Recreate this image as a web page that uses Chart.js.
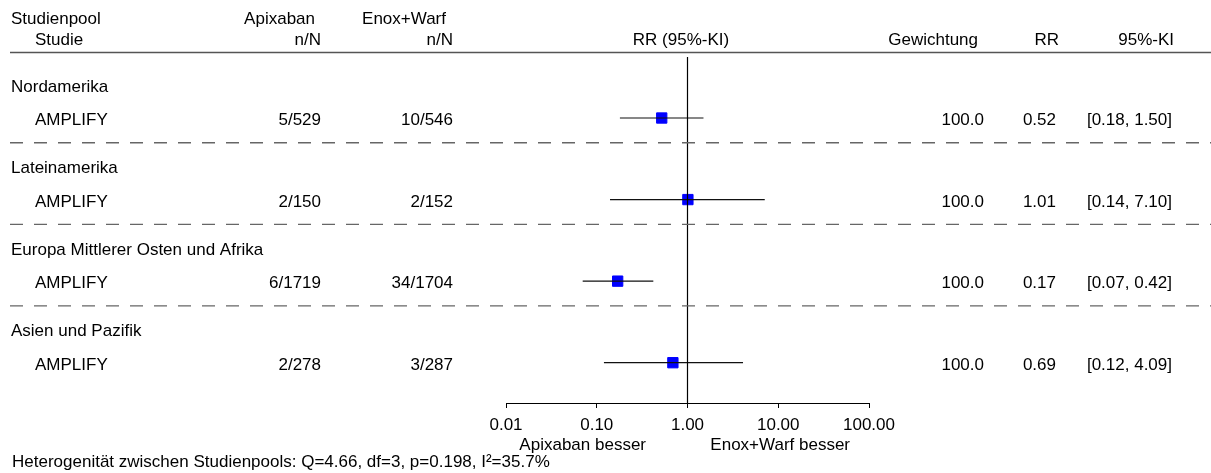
<!DOCTYPE html>
<html lang="de">
<head>
<meta charset="utf-8">
<title>Forest Plot AMPLIFY nach Region</title>
<script src="https://cdn.jsdelivr.net/npm/chart.js@4.4.1/dist/chart.umd.min.js"></script>
<style>
    body { margin: 0; background: #fff; }
    canvas { display: block; }
</style>
</head>
<body>
<canvas id="forestChart" width="1211" height="473"></canvas>
<script>
// Data
const regions = ['Nordamerika', 'Lateinamerika', 'Europa Mittlerer Osten und Afrika', 'Asien und Pazifik'];
const studies = ['AMPLIFY', 'AMPLIFY', 'AMPLIFY', 'AMPLIFY'];
const apixabanNN = ['5/529', '2/150', '6/1719', '2/278'];
const enoxWarfNN = ['10/546', '2/152', '34/1704', '3/287'];
const weights = [100.0, 100.0, 100.0, 100.0];
const rr = [0.52, 1.01, 0.17, 0.69];
const ciLow = [0.18, 0.14, 0.07, 0.12];
const ciHigh = [1.50, 7.10, 0.42, 4.09];
const tickValues = [0.01, 0.1, 1, 10, 100];
const heterogeneity = 'Heterogenität zwischen Studienpools: Q=4.66, df=3, p=0.198, I²=35.7%';

const FONT = '17px "Liberation Sans", Arial, sans-serif';

// Row layout (one unit = one region block)
const LABEL_OFFSET = -0.325;
const DASH_OFFSET = 0.303;

function drawText(ctx, str, x, y, align) {
    ctx.textAlign = align || 'left';
    ctx.fillText(str, x, y);
}

// Text columns, header rule and dashed separators
const forestText = {
    id: 'forestText',
    afterDraw(chart) {
        const ctx = chart.ctx;
        const yScale = chart.scales.y;
        const xScale = chart.scales.x;
        ctx.save();
        ctx.font = FONT;
        ctx.fillStyle = '#000';
        ctx.textBaseline = 'alphabetic';

        // header
        drawText(ctx, 'Studienpool', 11, 24);
        drawText(ctx, 'Studie', 35, 45);
        drawText(ctx, 'Apixaban', 315, 24, 'right');
        drawText(ctx, 'n/N', 321, 45, 'right');
        drawText(ctx, 'Enox+Warf', 446, 24, 'right');
        drawText(ctx, 'n/N', 453, 45, 'right');
        drawText(ctx, 'RR (95%-KI)', 681, 45, 'center');
        drawText(ctx, 'Gewichtung', 978, 45, 'right');
        drawText(ctx, 'RR', 1059, 45, 'right');
        drawText(ctx, '95%-KI', 1174, 45, 'right');

        ctx.strokeStyle = '#555';
        ctx.lineWidth = 1.5;
        ctx.beginPath();
        ctx.moveTo(10, 52.5);
        ctx.lineTo(1211, 52.5);
        ctx.stroke();

        regions.forEach(function(region, i) {
            const yLabel = yScale.getPixelForValue(i + LABEL_OFFSET);
            const yRow = yScale.getPixelForValue(i) + 7;
            drawText(ctx, region, 11, yLabel);
            drawText(ctx, studies[i], 35, yRow);
            drawText(ctx, apixabanNN[i], 321, yRow, 'right');
            drawText(ctx, enoxWarfNN[i], 453, yRow, 'right');
            drawText(ctx, weights[i].toFixed(1), 984, yRow, 'right');
            drawText(ctx, rr[i].toFixed(2), 1056, yRow, 'right');
            drawText(ctx, '[' + ciLow[i].toFixed(2) + ', ' + ciHigh[i].toFixed(2) + ']', 1172, yRow, 'right');

            if (i < regions.length - 1) {
                const yDash = yScale.getPixelForValue(i + DASH_OFFSET);
                ctx.save();
                ctx.strokeStyle = '#666';
                ctx.lineWidth = 1.3;
                ctx.setLineDash([13, 11]);
                ctx.beginPath();
                ctx.moveTo(10, yDash);
                ctx.lineTo(1211, yDash);
                ctx.stroke();
                ctx.restore();
            }
        });

        // direction labels under the axis
        drawText(ctx, 'Apixaban besser', xScale.getPixelForValue(0.07), 449.5, 'center');
        drawText(ctx, 'Enox+Warf besser', xScale.getPixelForValue(10.5), 449.5, 'center');

        drawText(ctx, heterogeneity, 12, 467);
        ctx.restore();
    }
};

const yMin = -0.748;
const yMax = 3.494;

const datasets = [];

// reference line at RR = 1
datasets.push({
    type: 'line',
    data: [{x: 1, y: yMin}, {x: 1, y: yMax}],
    borderColor: '#000',
    borderWidth: 1.2,
    pointRadius: 0,
    order: 0
});

// confidence intervals
rr.forEach(function(v, i) {
    datasets.push({
        type: 'line',
        data: [{x: ciLow[i], y: i}, {x: ciHigh[i], y: i}],
        borderColor: '#111',
        borderWidth: 1.2,
        pointRadius: 0,
        order: 1
    });
});

// point estimates
datasets.push({
    type: 'scatter',
    data: rr.map(function(v, i) { return {x: v, y: i}; }),
    pointStyle: 'rect',
    pointRadius: 7.3,
    backgroundColor: '#0000ff',
    borderColor: '#0000ff',
    borderWidth: 1,
    order: 2
});

new Chart(document.getElementById('forestChart'), {
    type: 'scatter',
    data: { datasets: datasets },
    options: {
        responsive: false,
        animation: false,
        events: [],
        layout: {
            padding: { left: 506, right: 342, top: 57, bottom: 0 }
        },
        plugins: {
            legend: { display: false },
            tooltip: { enabled: false }
        },
        scales: {
            x: {
                type: 'logarithmic',
                position: 'bottom',
                min: 0.01,
                max: 100,
                afterBuildTicks: function(scale) {
                    scale.ticks = tickValues.map(function(v) { return {value: v}; });
                },
                afterFit: function(scale) {
                    scale.height = 70;
                },
                ticks: {
                    color: '#000',
                    padding: 7,
                    maxRotation: 0,
                    autoSkip: false,
                    font: { family: '"Liberation Sans", Arial, sans-serif', size: 17 },
                    callback: function(value) {
                        return Number(value).toFixed(2);
                    }
                },
                grid: {
                    display: true,
                    drawOnChartArea: false,
                    drawTicks: true,
                    tickLength: 5,
                    color: '#000',
                    lineWidth: 1
                },
                border: { display: true, color: '#000', width: 1 }
            },
            y: {
                type: 'linear',
                display: false,
                reverse: true,
                min: yMin,
                max: yMax
            }
        }
    },
    plugins: [forestText]
});
</script>
</body>
</html>
